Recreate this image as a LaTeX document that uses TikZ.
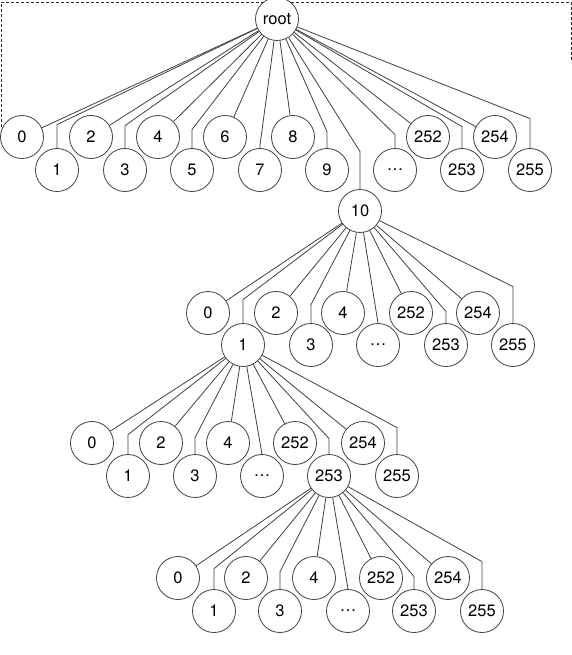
\documentclass[tikz,border=0pt]{standalone}
\usepackage{fontspec}
\setmainfont{TeX Gyre Heros}
\usetikzlibrary{backgrounds}
\begin{document}
\begin{tikzpicture}[x=1pt,y=-1pt,
  tnode/.style={circle,draw=black!75,fill=white,line width=0.8pt,minimum size=43pt,inner sep=0pt,font=\fontsize{16.5}{18}\selectfont},
  tedge/.style={draw=black!75,line width=0.8pt},
  frame/.style={draw=black!85,line width=0.8pt,dash pattern=on 3pt off 2pt}]
\useasboundingbox (0,0) rectangle (572,655);

% ---------- level 0 ----------
\node[tnode] (r) at (277,19) {root};

% ---------- level 1 ----------
\foreach \n/\x/\t in {a0/22/0,a2/91/2,a4/158/4,a6/225/6,a8/293/8,a252/428/252,a254/495/254}
  \node[tnode] (\n) at (\x,137) {\t};
\foreach \n/\x/\t in {a1/57/1,a3/125/3,a5/192/5,a7/260/7,a9/327/9,adots/395/\ldots,a253/462/253,a255/530/255}
  \node[tnode] (\n) at (\x,170) {\t};
\node[tnode] (a10) at (360,211) {10};

% ---------- level 2 ----------
\foreach \n/\x/\t in {b0/208/0,b2/276/2,b4/343/4,b252/411/252,b254/478/254}
  \node[tnode] (\n) at (\x,313) {\t};
\foreach \n/\x/\t in {b1/243/1,b3/311/3,bdots/378/\ldots,b253/446/253,b255/513/255}
  \node[tnode] (\n) at (\x,345) {\t};

% ---------- level 3 ----------
\foreach \n/\x/\t in {c0/92/0,c2/161/2,c4/228/4,c252/295/252,c254/363/254}
  \node[tnode] (\n) at (\x,443) {\t};
\foreach \n/\x/\t in {c1/128/1,c3/195/3,cdots/262/\ldots,c253/329/253,c255/397/255}
  \node[tnode] (\n) at (\x,476) {\t};

% ---------- level 4 ----------
\foreach \n/\x/\t in {d0/178/0,d2/246/2,d4/314/4,d252/381/252,d254/448/254}
  \node[tnode] (\n) at (\x,578) {\t};
\foreach \n/\x/\t in {d1/214/1,d3/280/3,ddots/348/\ldots,d253/414/253,d255/482/255}
  \node[tnode] (\n) at (\x,611) {\t};

\begin{scope}[on background layer]
  \draw[frame] (1,127) -- (1,2) -- (571,2) -- (571,62);
  % root edges
  \foreach \c in {a0,a2,a4,a6,a8,a252,a254}
    \draw[tedge] (r) -- (\c);
  \foreach \c/\h in {a1/23.5,a3/22.5,a5/18.5,a7/3,a9/16.5,adots/13.5,a253/21.5,a255/29.5,a10/37.5}
    \draw[tedge] (r) -- ([yshift=\h pt]\c.north) -- (\c.north);
  % 10 edges
  \foreach \c in {b0,b2,b4,b252,b254}
    \draw[tedge] (a10) -- (\c);
  \foreach \c/\h in {b1/23.5,b3/18.5,bdots/0,b253/11.5,b255/36.5}
    \draw[tedge] (a10) -- ([yshift=\h pt]\c.north) -- (\c.north);
  % 1 edges
  \foreach \c in {c0,c2,c4,c252,c254}
    \draw[tedge] (b1) -- (\c);
  \foreach \c/\h in {c1/19.5,c3/16.5,cdots/0,c253/15.5,c255/26.5}
    \draw[tedge] (b1) -- ([yshift=\h pt]\c.north) -- (\c.north);
  % 253 edges
  \foreach \c in {d0,d2,d4,d252,d254}
    \draw[tedge] (c253) -- (\c);
  \foreach \c/\h in {d1/20.5,d3/17.5,ddots/0,d253/12.5,d255/27.5}
    \draw[tedge] (c253) -- ([yshift=\h pt]\c.north) -- (\c.north);
\end{scope}
\end{tikzpicture}
\end{document}
